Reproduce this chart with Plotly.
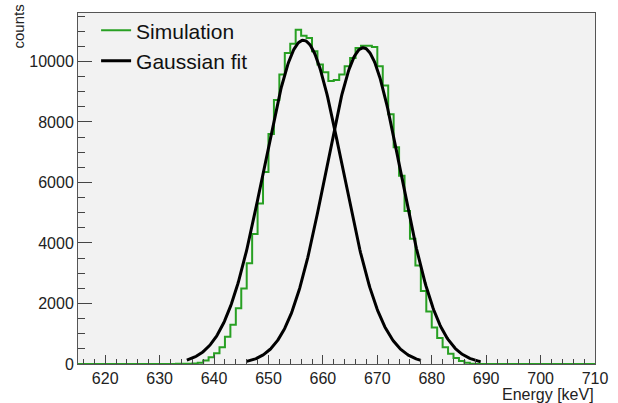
import numpy as np
import plotly.graph_objects as go

# ---- data ----
bin_start = 615          # keV, left edge of first bin
bin_width = 1            # keV
counts = [
    0, 0, 0, 0, 0, 0, 0, 0, 0, 0, 0, 0, 0, 0, 0,            # 615-629
    1, 2, 3, 5, 8, 12, 20, 40, 115, 224,                     # 630-639
    355, 552, 902, 1295, 1842, 2497, 3328, 4300, 5306, 6344, # 640-649
    7600, 8727, 9568, 10279, 10585, 11043, 10847, 10770, 10333, 9896,  # 650-659
    9645, 9350, 9383, 9568, 9842, 10115, 10443, 10519, 10519, 10475,   # 660-669
    9842, 9207, 8256, 7164, 6224, 5055, 4137, 3252, 2410, 1732,        # 670-679
    1207, 858, 550, 340, 200, 100, 40, 12, 3, 0,                       # 680-689
    0, 0, 0, 0, 0, 0, 0, 0, 0, 0,                                      # 690-699
    0, 0, 0, 0, 0, 0, 0, 0, 0, 0,                                      # 700-709
]

# Gaussian fit parameters (two peaks)
fit_amp = [10700, 10450]
fit_mean = [656.4, 667.4]
fit_sigma = [7.2, 6.9]
fit_lo = [635, 646]
fit_hi = [678, 689]

x_ticks = [620, 630, 640, 650, 660, 670, 680, 690, 700, 710]
x_tick_labels = ["620", "630", "640", "650", "660", "670", "680", "690", "700", "710"]
y_ticks = [0, 2000, 4000, 6000, 8000, 10000]
y_tick_labels = ["0", "2000", "4000", "6000", "8000", "10000"]

x_range = [615, 710]
y_range = [0, 11600]

GREEN = "rgb(40,160,35)"
FONT = "Liberation Sans, Arial, sans-serif"

# ---- build figure ----
edges = bin_start + bin_width * np.arange(len(counts) + 1)
hist_y = list(counts) + [counts[-1]]

fig = go.Figure()
fig.add_trace(go.Scatter(
    x=edges, y=hist_y, mode="lines", line=dict(color=GREEN, width=2, shape="hv"),
    name="Simulation",
))
for i in range(len(fit_amp)):
    xs = np.linspace(fit_lo[i], fit_hi[i], 300)
    ys = fit_amp[i] * np.exp(-0.5 * ((xs - fit_mean[i]) / fit_sigma[i]) ** 2)
    fig.add_trace(go.Scatter(
        x=xs, y=ys, mode="lines", line=dict(color="black", width=3),
        name="Gaussian fit", showlegend=(i == 0), legendgroup="fit",
    ))

fig.update_layout(
    width=618, height=403,
    margin=dict(l=78, r=15, t=10, b=39),
    paper_bgcolor="white", plot_bgcolor="#f2f2f2",
    font=dict(family=FONT, color="#222", size=16),
    showlegend=True,
    legend=dict(x=0.035, y=1.008, xanchor="left", yanchor="top",
                bgcolor="rgba(0,0,0,0)", borderwidth=0,
                font=dict(size=21, color="#111"), itemwidth=30,
                tracegroupgap=0),
)
fig.update_xaxes(
    range=x_range, tickvals=x_ticks, ticktext=x_tick_labels,
    ticks="inside", ticklen=9, tickwidth=1,
    tickcolor="#444", showline=True, linecolor="#555", linewidth=1, mirror=True,
    showgrid=False, zeroline=False, tickfont=dict(size=16, color="#222"),
    minor=dict(dtick=2, ticks="inside", ticklen=5, tickcolor="#444", showgrid=False),
)
fig.update_yaxes(
    range=y_range, tickvals=y_ticks, ticktext=y_tick_labels,
    ticks="inside", ticklen=14, tickwidth=1,
    tickcolor="#444", showline=True, linecolor="#555", linewidth=1, mirror=True,
    showgrid=False, zeroline=False, tickfont=dict(size=16, color="#222"),
    minor=dict(dtick=500, ticks="inside", ticklen=7, tickcolor="#444", showgrid=False),
)
fig.add_annotation(text="Energy [keV]", xref="paper", yref="paper", x=1.0, y=0,
                   xanchor="right", yanchor="top", yshift=-21, showarrow=False,
                   borderpad=0, font=dict(size=16, color="#222"))
fig.add_annotation(text="counts", xref="paper", yref="paper", x=0, y=1.0,
                   xanchor="right", yanchor="top", xshift=-50, yshift=10,
                   textangle=-90, showarrow=False,
                   font=dict(size=15, color="#222"))

fig.write_html("out.html")
